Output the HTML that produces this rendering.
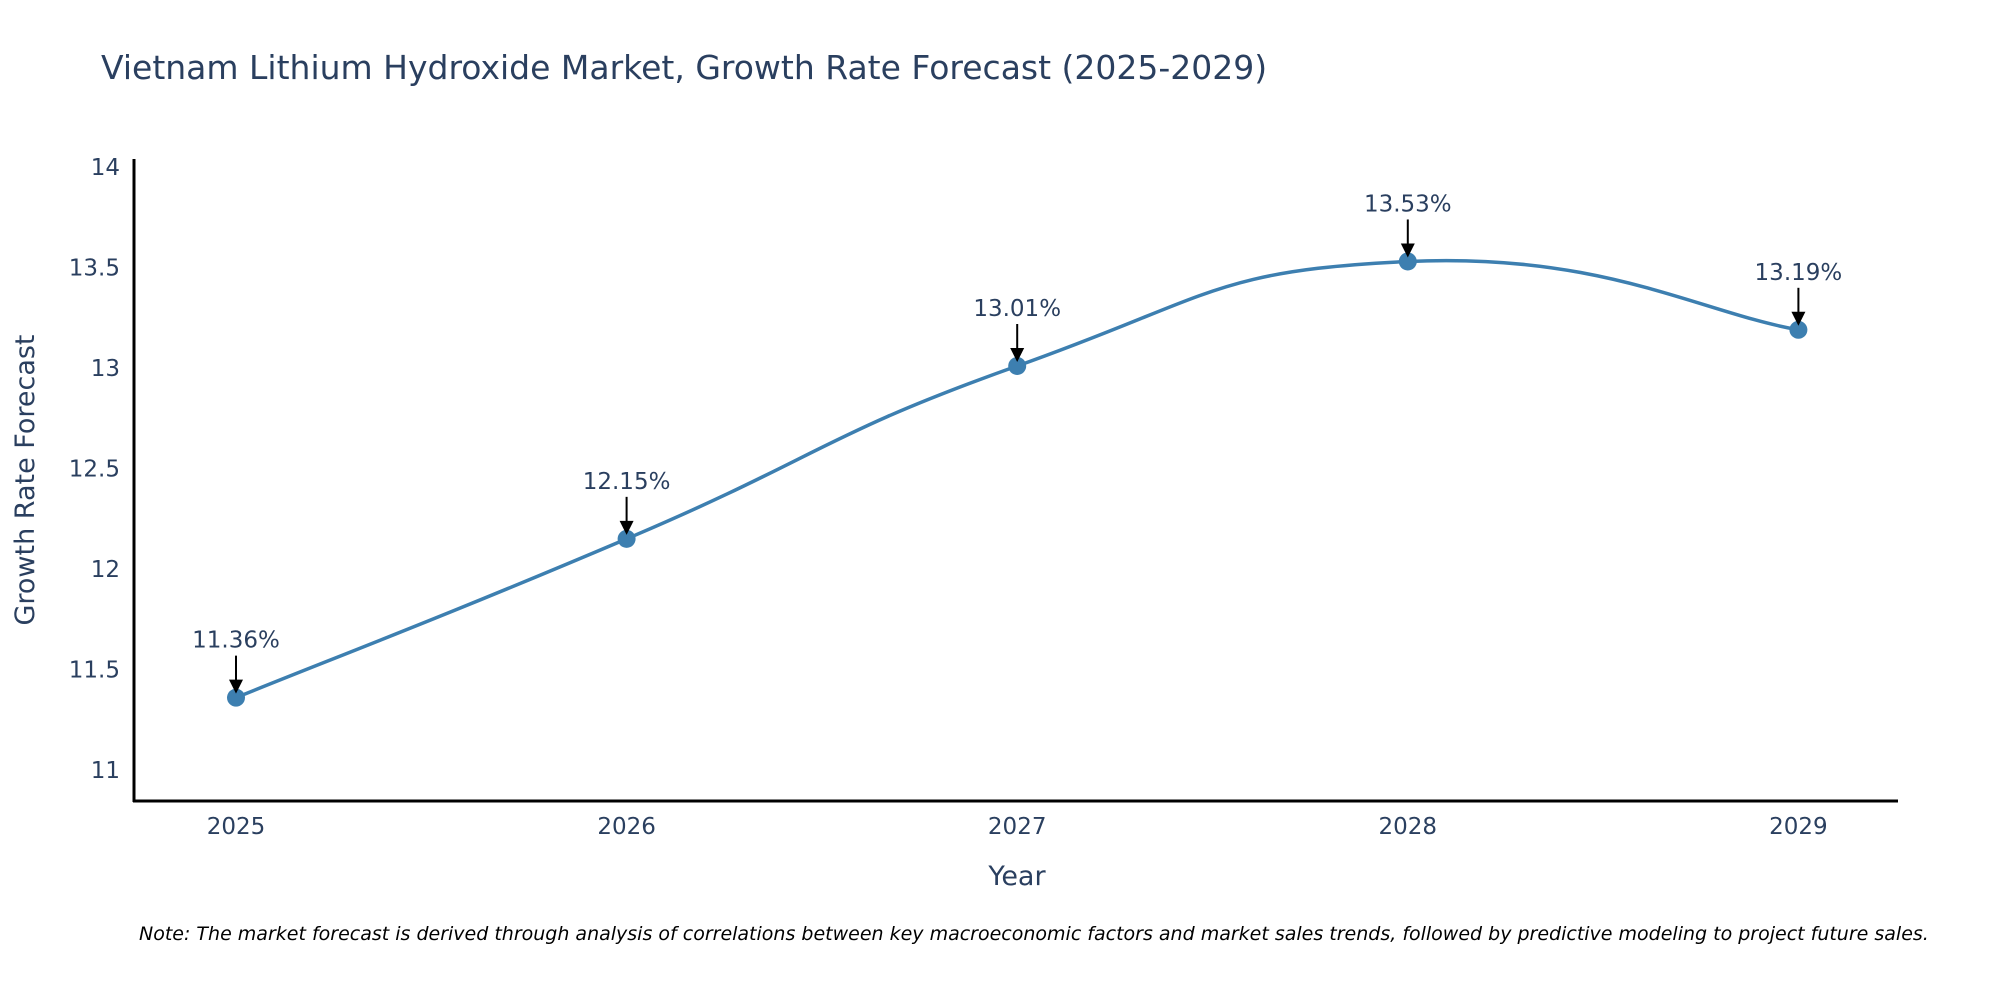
<!DOCTYPE html>
<html><head><meta charset="utf-8"><style>
body{margin:0;background:#fff;overflow:hidden;}
svg{display:block;font-family:"DejaVu Sans","Liberation Sans",sans-serif;}
</style></head><body>
<svg id="chart" width="2000" height="1000" viewBox="0 0 2000 1000">
<text x="101" y="79" font-size="33" fill="#2a3f5f">Vietnam Lithium Hydroxide Market, Growth Rate Forecast (2025-2029)</text>
<g id="yticks"></g>
<g id="xticks"></g>
<line x1="134" y1="159" x2="134" y2="802" stroke="#000" stroke-width="3"/>
<line x1="133" y1="801" x2="1898" y2="801" stroke="#000" stroke-width="3"/>
<text transform="translate(34,480) rotate(-90)" text-anchor="middle" font-size="27" fill="#2a3f5f">Growth Rate Forecast</text>
<text x="1017" y="885" text-anchor="middle" font-size="27" fill="#2a3f5f">Year</text>
<path id="line" fill="none" stroke="#3d7fb0" stroke-width="3.5"/>
<g id="points"></g>
<text x="139" y="940" font-size="19" font-style="italic" fill="#000">Note: The market forecast is derived through analysis of correlations between key macroeconomic factors and market sales trends, followed by predictive modeling to project future sales.</text>
</svg>
<script>
const years = [2025, 2026, 2027, 2028, 2029];
const values = [11.36, 12.15, 13.01, 13.53, 13.19];
const yTicks = [11, 11.5, 12, 12.5, 13, 13.5, 14];
const yTickLabels = ["11", "11.5", "12", "12.5", "13", "13.5", "14"];
const NS = "http://www.w3.org/2000/svg";
const xs = v => 236 + (v - 2025) * 390.6;
const ys = v => 770 - (v - 11) * 201;
const yg = document.getElementById('yticks');
yTicks.forEach((t, i) => {
  const el = document.createElementNS(NS, 'text');
  
  
  el.setAttribute('x', 120); el.setAttribute('y', ys(t) + 8);
  el.setAttribute('text-anchor', 'end'); el.setAttribute('font-size', '23'); el.setAttribute('fill', '#2a3f5f');
  el.textContent = yTickLabels[i]; yg.appendChild(el);
});
const xg = document.getElementById('xticks');
years.forEach(y => {
  const el = document.createElementNS(NS, 'text');
  
  
  el.setAttribute('x', xs(y)); el.setAttribute('y', 834);
  el.setAttribute('text-anchor', 'middle'); el.setAttribute('font-size', '23'); el.setAttribute('fill', '#2a3f5f');
  el.textContent = y; xg.appendChild(el);
});
const P = years.map((y, i) => [xs(y), ys(values[i])]);
let d = `M${P[0][0]},${P[0][1]}`;
const k = 0.5;
for (let i = 0; i < P.length - 1; i++) {
  const p0 = P[Math.max(0, i - 1)], p1 = P[i], p2 = P[i + 1], p3 = P[Math.min(P.length - 1, i + 2)];
  const c1 = [p1[0] + (p2[0] - p0[0]) * k / 2, p1[1] + (p2[1] - p0[1]) * k / 2];
  const c2 = [p2[0] - (p3[0] - p1[0]) * k / 2, p2[1] - (p3[1] - p1[1]) * k / 2];
  d += ` C${c1[0]},${c1[1]} ${c2[0]},${c2[1]} ${p2[0]},${p2[1]}`;
}
document.getElementById('line').setAttribute('d', d);
const pg = document.getElementById('points');
P.forEach((p, i) => {
  const c = document.createElementNS(NS, 'circle');
  
  
  c.setAttribute('cx', p[0]); c.setAttribute('cy', p[1]); c.setAttribute('r', 9); c.setAttribute('fill', '#3d7fb0');
  pg.appendChild(c);
  const l = document.createElementNS(NS, 'line');
  
  
  l.setAttribute('x1', p[0]); l.setAttribute('y1', p[1] - 42); l.setAttribute('x2', p[0]); l.setAttribute('y2', p[1] - 16);
  l.setAttribute('stroke', '#000'); l.setAttribute('stroke-width', '2');
  pg.appendChild(l);
  const h = document.createElementNS(NS, 'polygon');
  
  
  h.setAttribute('points', `${p[0]-7},${p[1]-18} ${p[0]+7},${p[1]-18} ${p[0]},${p[1]-4}`);
  h.setAttribute('fill', '#000');
  pg.appendChild(h);
  const t = document.createElementNS(NS, 'text');
  
  
  t.setAttribute('x', p[0]); t.setAttribute('y', p[1] - 50);
  t.setAttribute('text-anchor', 'middle'); t.setAttribute('font-size', '23'); t.setAttribute('fill', '#2a3f5f');
  t.textContent = values[i].toFixed(2) + '%';
  pg.appendChild(t);
});
</script>
</body></html>
